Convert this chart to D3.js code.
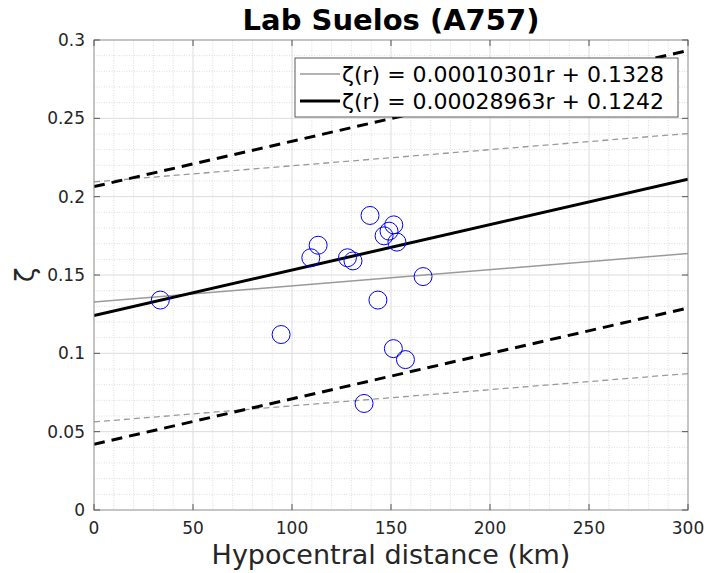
<!DOCTYPE html>
<html>
<head>
<meta charset="utf-8">
<script src="https://cdn.jsdelivr.net/npm/d3@7"></script>
<style>
  body { margin: 0; background: #fff; }
  text { font-family: "DejaVu Sans", sans-serif; }
</style>
</head>
<body>
<div id="chart"></div>
<script>
// observed points (hypocentral distance km, zeta)
var distances = [33.5, 94.5, 109.5, 113.2, 128, 130.8, 139.4, 143.4, 146.5, 149, 151.4, 153, 151.2, 157.3, 136.4, 166.2];
var zetas     = [0.134, 0.112, 0.161, 0.169, 0.161, 0.159, 0.188, 0.134, 0.175, 0.178, 0.182, 0.171, 0.103, 0.096, 0.068, 0.149];

// fits: slope, intercept, half-width of dashed band
var fitNames      = ["gray", "black"];
var fitSlopes     = [0.00010301, 0.00028963];
var fitIntercepts = [0.1328, 0.1242];
var fitBands      = [0.0766, 0.0822];
var fitLabels     = ["\u03b6(r) = 0.00010301r + 0.1328", "\u03b6(r) = 0.00028963r + 0.1242"];

var xTicks = [0, 50, 100, 150, 200, 250, 300];
var yTicks = [0, 0.05, 0.1, 0.15, 0.2, 0.25, 0.3];

function init() {
    var W = 708, H = 573;
    var m = {left: 94, right: 20, top: 40, bottom: 63};
    var w = W - m.left - m.right;
    var h = H - m.top - m.bottom;

    var svg = d3.select("#chart").append("svg")
        .attr("width", W)
        .attr("height", H);

    var x = d3.scaleLinear().domain([0, 300]).range([0, w]);
    var y = d3.scaleLinear().domain([0, 0.3]).range([h, 0]);

    var g = svg.append("g").attr("transform", "translate(" + m.left + "," + m.top + ")");

    // minor grid
    g.selectAll(".mx").data(d3.range(10, 300, 10).filter(function(d) { return d % 50 !== 0; }))
        .enter().append("line")
        .attr("x1", function(d) { return x(d); }).attr("x2", function(d) { return x(d); })
        .attr("y1", 0).attr("y2", h)
        .attr("stroke", "#d4d4d4").attr("stroke-width", 0.8).attr("stroke-dasharray", "1,1.5");
    g.selectAll(".my").data(d3.range(1, 30).filter(function(d) { return d % 5 !== 0; }))
        .enter().append("line")
        .attr("y1", function(d) { return y(d / 100); }).attr("y2", function(d) { return y(d / 100); })
        .attr("x1", 0).attr("x2", w)
        .attr("stroke", "#d4d4d4").attr("stroke-width", 0.8).attr("stroke-dasharray", "1,1.5");

    // major grid
    g.selectAll(".gx").data(xTicks.slice(1, -1)).enter().append("line")
        .attr("x1", function(d) { return x(d); }).attr("x2", function(d) { return x(d); })
        .attr("y1", 0).attr("y2", h)
        .attr("stroke", "#dcdcdc").attr("stroke-width", 1);
    g.selectAll(".gy").data(yTicks.slice(1, -1)).enter().append("line")
        .attr("y1", function(d) { return y(d); }).attr("y2", function(d) { return y(d); })
        .attr("x1", 0).attr("x2", w)
        .attr("stroke", "#dcdcdc").attr("stroke-width", 1);

    g.append("clipPath").attr("id", "clip").append("rect")
        .attr("width", w).attr("height", h);
    var plot = g.append("g").attr("clip-path", "url(#clip)");

    var line = function(s, b) {
        return d3.line()
            .x(function(d) { return x(d); })
            .y(function(d) { return y(b + s * d); })([0, 300]);
    };

    // dashed bands
    fitNames.forEach(function(n, i) {
        var col = n === "gray" ? "#9a9a9a" : "#000";
        var sw = n === "gray" ? 1.3 : 3;
        var dash = n === "gray" ? "6,4" : "11,7";
        [-1, 1].forEach(function(k) {
            plot.append("path")
                .attr("d", line(fitSlopes[i], fitIntercepts[i] + k * fitBands[i]))
                .attr("fill", "none").attr("stroke", col)
                .attr("stroke-width", sw).attr("stroke-dasharray", dash);
        });
    });

    // fit lines
    fitNames.forEach(function(n, i) {
        plot.append("path")
            .attr("d", line(fitSlopes[i], fitIntercepts[i]))
            .attr("fill", "none")
            .attr("stroke", n === "gray" ? "#9a9a9a" : "#000")
            .attr("stroke-width", n === "gray" ? 1.5 : 3);
    });

    // points
    plot.selectAll("circle").data(distances).enter().append("circle")
        .attr("cx", function(d) { return x(d); })
        .attr("cy", function(d, i) { return y(zetas[i]); })
        .attr("r", 9)
        .attr("fill", "none")
        .attr("stroke", "#0000ff")
        .attr("stroke-width", 1);

    // axes box
    g.append("rect").attr("width", w).attr("height", h)
        .attr("fill", "none").attr("stroke", "#8c8c8c").attr("stroke-width", 1);

    var tl = 6;
    g.selectAll(".tx").data(xTicks).enter().append("line")
        .attr("x1", function(d) { return x(d); }).attr("x2", function(d) { return x(d); })
        .attr("y1", h).attr("y2", h - tl).attr("stroke", "#555");
    g.selectAll(".tx2").data(xTicks).enter().append("line")
        .attr("x1", function(d) { return x(d); }).attr("x2", function(d) { return x(d); })
        .attr("y1", 0).attr("y2", tl).attr("stroke", "#555");
    g.selectAll(".ty").data(yTicks).enter().append("line")
        .attr("y1", function(d) { return y(d); }).attr("y2", function(d) { return y(d); })
        .attr("x1", 0).attr("x2", tl).attr("stroke", "#555");
    g.selectAll(".ty2").data(yTicks).enter().append("line")
        .attr("y1", function(d) { return y(d); }).attr("y2", function(d) { return y(d); })
        .attr("x1", w).attr("x2", w - tl).attr("stroke", "#555");

    g.selectAll(".xl").data(xTicks).enter().append("text")
        .attr("x", function(d) { return x(d); })
        .attr("y", h + 24)
        .attr("text-anchor", "middle")
        .attr("font-size", 17).attr("fill", "#262626")
        .text(function(d) { return d; });
    g.selectAll(".yl").data(yTicks).enter().append("text")
        .attr("x", -9)
        .attr("y", function(d) { return y(d) + 6; })
        .attr("text-anchor", "end")
        .attr("font-size", 17).attr("fill", "#262626")
        .text(function(d) { return d; });

    // labels
    svg.append("text")
        .attr("x", m.left + w / 2).attr("y", 30)
        .attr("text-anchor", "middle")
        .attr("font-size", 29).attr("font-weight", "bold").attr("fill", "#000")
        .text("Lab Suelos (A757)");
    svg.append("text")
        .attr("x", m.left + w / 2).attr("y", 564)
        .attr("text-anchor", "middle")
        .attr("font-size", 27).attr("fill", "#262626")
        .text("Hypocentral distance (km)");
    svg.append("text")
        .attr("transform", "translate(34," + (m.top + y(0.15)) + ") rotate(-90)")
        .attr("text-anchor", "middle")
        .attr("font-size", 27).attr("fill", "#262626")
        .text("\u03b6");

    // legend
    var lg = svg.append("g").attr("transform", "translate(295,58)");
    lg.append("rect").attr("width", 383).attr("height", 59)
        .attr("fill", "#fff").attr("stroke", "#333").attr("stroke-width", 0.8);
    fitNames.forEach(function(n, i) {
        var yy = 16 + i * 27;
        lg.append("line").attr("x1", 5).attr("x2", 45).attr("y1", yy).attr("y2", yy)
            .attr("stroke", n === "gray" ? "#9a9a9a" : "#000")
            .attr("stroke-width", n === "gray" ? 1.5 : 3);
        lg.append("text").attr("x", 47).attr("y", yy + 8)
            .attr("font-size", 22).attr("fill", "#000")
            .text(fitLabels[i]);
    });
}

window.onload = init;
</script>
</body>
</html>
